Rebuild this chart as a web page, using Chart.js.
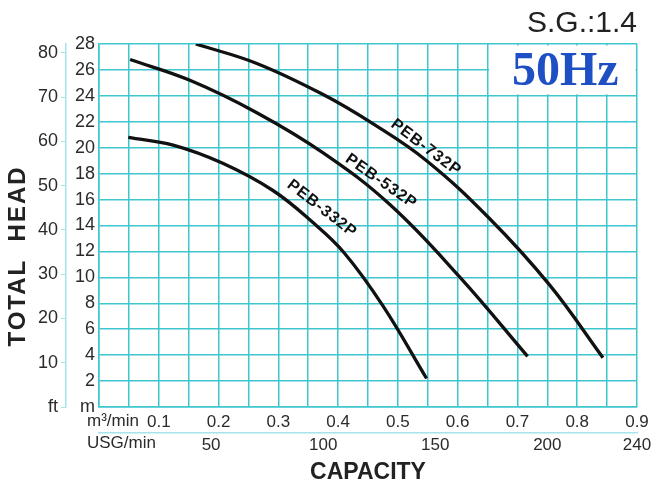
<!DOCTYPE html>
<html>
<head>
<meta charset="utf-8">
<script src="https://cdn.jsdelivr.net/npm/chart.js@4.4.0/dist/chart.umd.min.js"></script>
<style>
  html, body { margin: 0; padding: 0; background: #fff; }
</style>
</head>
<body>
<canvas id="pumpChart" width="654" height="486"></canvas>
<script>
// capacity (m3/min) and total head (m)
const q732 = [0.162, 0.264, 0.375, 0.46, 0.548, 0.652, 0.754, 0.843];
const h732 = [28.0, 26.5, 24.1, 21.8, 19.0, 14.6, 9.4, 3.8];
const q532 = [0.052, 0.152, 0.264, 0.375, 0.487, 0.604, 0.717];
const h532 = [26.8, 25.2, 22.7, 19.6, 15.6, 10.0, 3.9];
const q332 = [0.049, 0.124, 0.207, 0.291, 0.356, 0.41, 0.475, 0.548];
const h332 = [20.8, 20.2, 18.8, 16.7, 14.3, 11.9, 7.8, 2.2];

const models = ['PEB-732P', 'PEB-532P', 'PEB-332P'];
const ftTicks = [0, 10, 20, 30, 40, 50, 60, 70, 80];
const usgTicks = [50, 100, 150, 200, 240];

const gridCol = '#3fc6cf';
const paleCol = '#a6e3ea';
const textCol = '#2b2b2b';

function pts(q, h) {
    return q.map((v, i) => ({ x: v, y: h[i] }));
}

// curve name tags: position in data units + rotation
const tags = [
    { text: models[0], q: 0.547, h: 20.0, angle: 37 },
    { text: models[1], q: 0.472, h: 17.4, angle: 35 },
    { text: models[2], q: 0.373, h: 15.3, angle: 38 }
];

const extras = {
    id: 'extras',
    beforeDatasetsDraw(chart) {
        const { ctx, scales: { x, y } } = chart;
        ctx.save();
        // white panel for the frequency tag
        const l = x.getPixelForValue(0.65) + 1.5;
        const r = x.getPixelForValue(0.9) - 1.5;
        const t = y.getPixelForValue(28) + 1.5;
        const b = y.getPixelForValue(24) - 1.5;
        ctx.fillStyle = '#fff';
        ctx.fillRect(l, t, r - l, b - t);
        ctx.fillStyle = '#1f4fc4';
        ctx.font = 'bold 48px "Liberation Serif"';
        ctx.textAlign = 'center';
        ctx.textBaseline = 'middle';
        ctx.fillText('50Hz', (l + r) / 2 + 3, (t + b) / 2 + 3);
        ctx.restore();
    },
    afterDatasetsDraw(chart) {
        const { ctx, scales: { x, y } } = chart;
        ctx.save();
        ctx.fillStyle = '#111';
        ctx.font = 'bold 16px Arial, "Liberation Sans"';
        ctx.letterSpacing = '1px';
        ctx.textAlign = 'center';
        ctx.textBaseline = 'middle';
        tags.forEach(tg => {
            ctx.save();
            ctx.translate(x.getPixelForValue(tg.q), y.getPixelForValue(tg.h));
            ctx.rotate(tg.angle * Math.PI / 180);
            ctx.fillText(tg.text, 0, 0);
            ctx.restore();
        });
        ctx.restore();
    },
    afterDraw(chart) {
        const { ctx, chartArea } = chart;
        ctx.save();
        ctx.fillStyle = '#222';
        ctx.font = '30px Arial, "Liberation Sans"';
        ctx.textAlign = 'right';
        ctx.textBaseline = 'middle';
        ctx.fillText('S.G.:1.4', chartArea.right, 24);

        ctx.fillStyle = textCol;
        ctx.font = '17px Arial, "Liberation Sans"';
        ctx.textAlign = 'left';
        ctx.fillText('m³/min', 87, 421);
        ctx.fillText('USG/min', 87, 443);

        // vertical axis title
        ctx.fillStyle = '#222';
        ctx.font = 'bold 24px Arial, "Liberation Sans"';
        ctx.letterSpacing = '2px';
        ctx.textAlign = 'center';
        ctx.translate(18, 256);
        ctx.rotate(-Math.PI / 2);
        ctx.fillText('TOTAL  HEAD', 0, 0);
        ctx.restore();
    }
};

const config = {
    type: 'line',
    data: {
        datasets: [
            { label: models[0], data: pts(q732, h732) },
            { label: models[1], data: pts(q532, h532) },
            { label: models[2], data: pts(q332, h332) }
        ]
    },
    options: {
        responsive: false,
        animation: false,
        devicePixelRatio: 1,
        layout: { padding: { top: 44, right: 17, left: 0, bottom: 0 } },
        elements: {
            line: { borderColor: '#111', borderWidth: 3.3, tension: 0.4, fill: false },
            point: { radius: 0 }
        },
        plugins: {
            legend: { display: false },
            tooltip: { enabled: false }
        },
        scales: {
            x: {
                type: 'linear', position: 'bottom', min: 0, max: 0.9, weight: 0,
                grid: { color: gridCol, lineWidth: 1.5, drawTicks: false },
                border: { color: gridCol, width: 1.5 },
                ticks: {
                    stepSize: 0.05, padding: 5, autoSkip: false, maxRotation: 0,
                    color: textCol, font: { size: 17, family: 'Arial, "Liberation Sans"' },
                    callback: v => (v > 0 && Math.round(v * 100) % 10 === 0) ? v.toFixed(1) : ''
                },
                afterFit: s => { s.height = 26; }
            },
            x2: {
                type: 'linear', position: 'bottom', min: 0, max: 240, weight: 1,
                grid: { drawOnChartArea: false, drawTicks: false },
                border: { color: paleCol, width: 1.5 },
                afterBuildTicks: s => { s.ticks = usgTicks.map(v => ({ value: v })); },
                ticks: {
                    padding: 2, autoSkip: false, maxRotation: 0,
                    color: textCol, font: { size: 17, family: 'Arial, "Liberation Sans"' }
                },
                title: {
                    display: true, text: 'CAPACITY', color: '#222',
                    font: { size: 23, weight: 'bold', family: 'Arial, "Liberation Sans"' },
                    padding: { top: 0, bottom: 0 }
                },
                afterFit: s => { s.height = 53; }
            },
            y: {
                type: 'linear', position: 'left', min: 0, max: 28, weight: 0,
                grid: { color: gridCol, lineWidth: 1.5, drawTicks: false },
                border: { color: gridCol, width: 1.5 },
                ticks: {
                    stepSize: 2, padding: 4,
                    color: textCol, font: { size: 18, family: 'Arial, "Liberation Sans"' },
                    callback: v => v === 0 ? 'm' : v
                },
                afterFit: s => { s.width = 33; }
            },
            y2: {
                type: 'linear', position: 'left', min: 0, max: 82, weight: 1,
                grid: { drawOnChartArea: false, color: paleCol, tickLength: 5 },
                border: { color: paleCol, width: 1.5 },
                afterBuildTicks: s => { s.ticks = ftTicks.map(v => ({ value: v })); },
                ticks: {
                    padding: 3,
                    color: textCol, font: { size: 18, family: 'Arial, "Liberation Sans"' },
                    callback: v => v === 0 ? 'ft' : v
                },
                afterFit: s => { s.width = 66; }
            }
        }
    },
    plugins: [extras]
};

const ctx = document.getElementById('pumpChart').getContext('2d');
const pumpChart = new Chart(ctx, config);
</script>
</body>
</html>
